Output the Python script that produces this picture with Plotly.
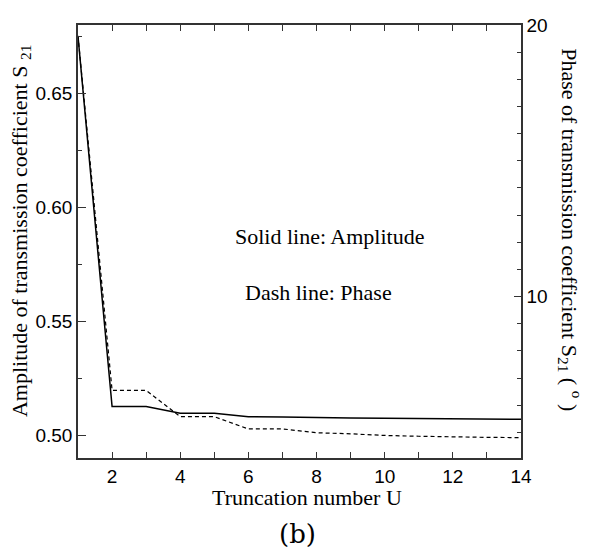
import plotly.graph_objects as go

U = [1, 2, 3, 4, 5, 6, 7, 8, 9, 10, 11, 12, 13, 14]
amplitude = [0.675, 0.5126, 0.5126, 0.5096, 0.5096, 0.5081, 0.5080, 0.5076, 0.5075, 0.5074, 0.5073, 0.5072, 0.5071, 0.5070]
phase = [19.6, 6.55, 6.55, 5.58, 5.58, 5.13, 5.13, 4.99, 4.95, 4.89, 4.86, 4.83, 4.82, 4.81]

fig = go.Figure()
fig.add_trace(go.Scatter(x=U, y=amplitude, mode="lines",
                         line=dict(color="black", width=1.5), yaxis="y", showlegend=False))
fig.add_trace(go.Scatter(x=U, y=phase, mode="lines",
                         line=dict(color="black", width=1.2, dash="4px,3px"), yaxis="y2", showlegend=False))

tickfont = dict(family="Liberation Sans, Arial", size=19, color="black")
serif = "Liberation Serif, Times New Roman"

fig.update_layout(
    width=589, height=554,
    margin=dict(l=70, r=76, t=7, b=104),
    paper_bgcolor="white", plot_bgcolor="white",
    xaxis=dict(range=[1, 14], tick0=0, dtick=2, ticks="inside", ticklen=6, tickwidth=1,
               tickcolor="#333", showline=True, linecolor="#333", linewidth=1.5,
               mirror="ticks", showgrid=False, zeroline=False, tickfont=tickfont,
               minor=dict(dtick=1, tick0=0, ticks="inside", ticklen=6, tickcolor="#333", showgrid=False)),
    yaxis=dict(range=[0.490, 0.680], tick0=0.5, dtick=0.05, tickformat=".2f",
               ticks="inside", ticklen=8, tickwidth=1, tickcolor="#333",
               showline=True, linecolor="#333", linewidth=1.5, showgrid=False, zeroline=False,
               tickfont=tickfont, ticklabeloverflow="allow",
               minor=dict(dtick=0.025, tick0=0.5, ticks="inside", ticklen=4, tickcolor="#333", showgrid=False)),
    yaxis2=dict(range=[4.06, 20], overlaying="y", side="right", tick0=0, dtick=10,
                ticks="inside", ticklen=7, tickwidth=1, tickcolor="#333",
                showline=True, linecolor="#333", linewidth=1.5, showgrid=False, zeroline=False,
                tickfont=tickfont, ticklabeloverflow="allow",
                minor=dict(dtick=1, tick0=0, ticks="inside", ticklen=4, tickcolor="#333", showgrid=False)),
    annotations=[
        dict(text="Amplitude of transmission coefficient S <sub>21</sub>", xref="paper", yref="paper",
             x=-0.1287, y=0.524, textangle=-90, showarrow=False, xanchor="center", yanchor="middle",
             font=dict(family=serif, size=22, color="black")),
        dict(text="Phase of transmission coefficient S<sub>21</sub> ( <sup>o</sup> )", xref="paper", yref="paper",
             x=1.111, y=0.528, textangle=90, showarrow=False, xanchor="center", yanchor="middle",
             font=dict(family=serif, size=22, color="black")),
        dict(text="Truncation number U", xref="paper", yref="paper",
             x=0.517, y=-0.0903, showarrow=False, xanchor="center", yanchor="middle",
             font=dict(family=serif, size=22, color="black")),
        dict(text="(b)", xref="paper", yref="paper",
             x=0.4955, y=-0.176, showarrow=False, xanchor="center", yanchor="middle",
             font=dict(family="DejaVu Serif", size=26, color="black")),
        dict(text="Solid line: Amplitude", xref="paper", yref="paper",
             x=(329 - 78) / 443, y=(458 - 231) / 443, showarrow=False, xanchor="center", yanchor="middle",
             font=dict(family=serif, size=22, color="black")),
        dict(text="Dash line: Phase", xref="paper", yref="paper",
             x=(318 - 78) / 443, y=(458 - 289) / 443, showarrow=False, xanchor="center", yanchor="middle",
             font=dict(family=serif, size=22, color="black")),
    ],
)

fig.write_html("out.html")
